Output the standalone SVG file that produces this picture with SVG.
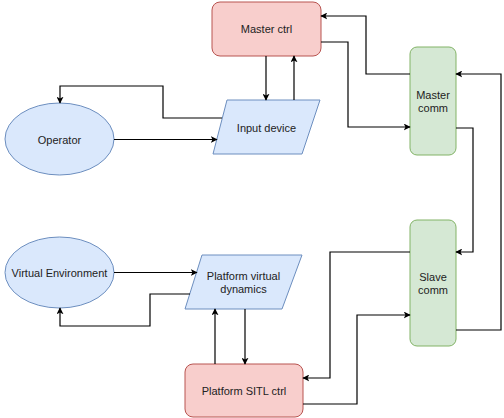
<svg xmlns="http://www.w3.org/2000/svg" width="504" height="418" viewBox="0 0 504 418">
<style>
text{font-family:"Liberation Sans",Arial,sans-serif;font-size:11px;fill:#222;text-anchor:middle;dominant-baseline:central}
.red{fill:#f8cecc;stroke:#b85450;stroke-width:1}
.green{fill:#d5e8d4;stroke:#82b366;stroke-width:1}
.blue{fill:#dae8fc;stroke:#6c8ebf;stroke-width:1}
.c{fill:none;stroke:#000;stroke-width:1.2;marker-end:url(#a)}
</style>
<defs>
<marker id="a" viewBox="0 0 10 10" refX="9" refY="5" markerWidth="7" markerHeight="7" orient="auto" markerUnits="userSpaceOnUse">
<path d="M0,0 L10,5 L0,10 L2.5,5 Z" fill="#000"/>
</marker>
</defs>
<rect width="504" height="418" fill="#fff"/>
<g id="master-ctrl"><rect class="red" x="212" y="2" width="109" height="54" rx="8"/><text x="266.5" y="29">Master ctrl</text></g>
<g id="master-comm"><rect class="green" x="410" y="47" width="46" height="108" rx="7"/><text x="433" y="95">Master</text><text x="433" y="108">comm</text></g>
<g id="input-device"><polygon class="blue" points="227,100 320,100 302,154 213,154"/><text x="266.5" y="128">Input device</text></g>
<g id="operator"><ellipse class="blue" cx="59.5" cy="139" rx="54.5" ry="36"/><text x="59.5" y="140">Operator</text></g>
<g id="slave-comm"><rect class="green" x="410" y="220" width="46" height="126" rx="7"/><text x="433" y="277">Slave</text><text x="433" y="290">comm</text></g>
<g id="virtual-environment"><ellipse class="blue" cx="59.5" cy="272.5" rx="54.5" ry="35.5"/><text x="59.5" y="273">Virtual Environment</text></g>
<g id="platform-virtual-dynamics"><polygon class="blue" points="202,255 302,255 282,309 185,309"/><text x="243.5" y="276">Platform virtual</text><text x="243.5" y="289">dynamics</text></g>
<g id="platform-sitl-ctrl"><rect class="red" x="185" y="364" width="118" height="53" rx="8"/><text x="244" y="391">Platform SITL ctrl</text></g>
<g id="connectors">
<path class="c" d="M266,56 V100"/>
<path class="c" d="M294,100 V56"/>
<path class="c" d="M222,118 H163 V86 H60 V103"/>
<path class="c" d="M114,139.5 H217"/>
<path class="c" d="M410,74 H366 V16 H321"/>
<path class="c" d="M321,42 H348 V127 H410"/>
<path class="c" d="M456,128 H473 V252 H456"/>
<path class="c" d="M456,330 H501 V74 H456"/>
<path class="c" d="M114,272.5 H197"/>
<path class="c" d="M190,294 H150 V326 H60 V308"/>
<path class="c" d="M215,364 V309"/>
<path class="c" d="M245,309 V364"/>
<path class="c" d="M410,252 H330 V378 H303"/>
<path class="c" d="M303,404 H357 V315 H410"/>
</g>
</svg>
